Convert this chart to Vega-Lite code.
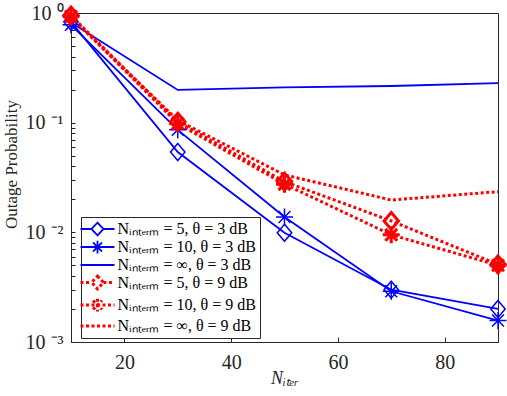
{
  "$schema": "https://vega.github.io/schema/vega-lite/v6.json",
  "width": 427,
  "height": 329,
  "autosize": {"type": "none"},
  "padding": {"left": 71, "top": 13, "right": 9, "bottom": 54},
  "background": "white",
  "config": {
    "font": "Liberation Serif",
    "view": {"stroke": "#262626", "strokeWidth": 1},
    "axis": {"domainColor": "#262626", "tickColor": "#262626", "labelColor": "#262626", "titleColor": "#262626", "labelFont": "Liberation Serif", "titleFont": "Liberation Serif", "grid": false}
  },
  "data": {"values": [
    {"series": "Nᵢₙₜₑᵣₘ = 5, θ = 3 dB", "x": 10, "y": 0.83},
    {"series": "Nᵢₙₜₑᵣₘ = 5, θ = 3 dB", "x": 30, "y": 0.054},
    {"series": "Nᵢₙₜₑᵣₘ = 5, θ = 3 dB", "x": 50, "y": 0.0099},
    {"series": "Nᵢₙₜₑᵣₘ = 5, θ = 3 dB", "x": 70, "y": 0.003},
    {"series": "Nᵢₙₜₑᵣₘ = 5, θ = 3 dB", "x": 90, "y": 0.002},
    {"series": "Nᵢₙₜₑᵣₘ = 10, θ = 3 dB", "x": 10, "y": 0.78},
    {"series": "Nᵢₙₜₑᵣₘ = 10, θ = 3 dB", "x": 30, "y": 0.086},
    {"series": "Nᵢₙₜₑᵣₘ = 10, θ = 3 dB", "x": 50, "y": 0.0138},
    {"series": "Nᵢₙₜₑᵣₘ = 10, θ = 3 dB", "x": 70, "y": 0.0029},
    {"series": "Nᵢₙₜₑᵣₘ = 10, θ = 3 dB", "x": 90, "y": 0.00157},
    {"series": "Nᵢₙₜₑᵣₘ = ∞, θ = 3 dB", "x": 10, "y": 0.82},
    {"series": "Nᵢₙₜₑᵣₘ = ∞, θ = 3 dB", "x": 30, "y": 0.199},
    {"series": "Nᵢₙₜₑᵣₘ = ∞, θ = 3 dB", "x": 50, "y": 0.21},
    {"series": "Nᵢₙₜₑᵣₘ = ∞, θ = 3 dB", "x": 70, "y": 0.216},
    {"series": "Nᵢₙₜₑᵣₘ = ∞, θ = 3 dB", "x": 90, "y": 0.229},
    {"series": "Nᵢₙₜₑᵣₘ = 5, θ = 9 dB", "x": 10, "y": 0.95},
    {"series": "Nᵢₙₜₑᵣₘ = 5, θ = 9 dB", "x": 30, "y": 0.102},
    {"series": "Nᵢₙₜₑᵣₘ = 5, θ = 9 dB", "x": 50, "y": 0.029},
    {"series": "Nᵢₙₜₑᵣₘ = 5, θ = 9 dB", "x": 70, "y": 0.0127},
    {"series": "Nᵢₙₜₑᵣₘ = 5, θ = 9 dB", "x": 90, "y": 0.0051},
    {"series": "Nᵢₙₜₑᵣₘ = 10, θ = 9 dB", "x": 10, "y": 0.93},
    {"series": "Nᵢₙₜₑᵣₘ = 10, θ = 9 dB", "x": 30, "y": 0.098},
    {"series": "Nᵢₙₜₑᵣₘ = 10, θ = 9 dB", "x": 50, "y": 0.0275},
    {"series": "Nᵢₙₜₑᵣₘ = 10, θ = 9 dB", "x": 70, "y": 0.0095},
    {"series": "Nᵢₙₜₑᵣₘ = 10, θ = 9 dB", "x": 90, "y": 0.005},
    {"series": "Nᵢₙₜₑᵣₘ = ∞, θ = 9 dB", "x": 10, "y": 0.91},
    {"series": "Nᵢₙₜₑᵣₘ = ∞, θ = 9 dB", "x": 30, "y": 0.105},
    {"series": "Nᵢₙₜₑᵣₘ = ∞, θ = 9 dB", "x": 50, "y": 0.0334},
    {"series": "Nᵢₙₜₑᵣₘ = ∞, θ = 9 dB", "x": 70, "y": 0.0197},
    {"series": "Nᵢₙₜₑᵣₘ = ∞, θ = 9 dB", "x": 90, "y": 0.0235}
  ]},
  "encoding": {
    "x": {"field": "x", "type": "quantitative", "scale": {"domain": [10, 90], "nice": false, "zero": false},
      "axis": {"values": [20, 40, 60, 80], "tickSize": -5, "labelPadding": 15, "labelFontSize": 20, "title": "Nᵢₜₑᵣ", "titleFontSize": 18, "titleFontStyle": "italic", "titleFontWeight": "normal", "titlePadding": -3}},
    "y": {"field": "y", "type": "quantitative", "scale": {"type": "log", "domain": [0.001, 1], "nice": false},
      "axis": {"values": [0.001,0.002,0.003,0.004,0.005,0.006,0.007,0.008,0.009,0.01,0.02,0.03,0.04,0.05,0.06,0.07,0.08,0.09,0.1,0.2,0.3,0.4,0.5,0.6,0.7,0.8,0.9,1],
        "tickSize": -4,
        "labelExpr": "abs(log(datum.value)/LN10 - round(log(datum.value)/LN10)) < 0.000001 ? '10 ' + (round(log(datum.value)/LN10) == 0 ? '⁰' : round(log(datum.value)/LN10) == -1 ? '⁻¹' : round(log(datum.value)/LN10) == -2 ? '⁻²' : '⁻³') : ''",
        "labelPadding": 12, "labelFontSize": 20, "title": "Outage Probability", "titleFontSize": 17, "titleFontWeight": "normal", "titlePadding": 5, "titleY": 151}}
  },
  "layer": [
    {
      "transform": [{"filter": "indexof(datum.series,'3 dB')>=0"}],
      "mark": {"type": "line", "clip": false, "strokeWidth": 1.8},
      "encoding": {
        "color": {"field": "series", "type": "nominal",
          "scale": {"domain": ["Nᵢₙₜₑᵣₘ = 5, θ = 3 dB", "Nᵢₙₜₑᵣₘ = 10, θ = 3 dB", "Nᵢₙₜₑᵣₘ = ∞, θ = 3 dB", "Nᵢₙₜₑᵣₘ = 5, θ = 9 dB", "Nᵢₙₜₑᵣₘ = 10, θ = 9 dB", "Nᵢₙₜₑᵣₘ = ∞, θ = 9 dB"],
            "range": ["#0000ff", "#0000ff", "#0000ff", "#ff0000", "#ff0000", "#ff0000"]},
          "legend": {"orient": "none", "legendX": 10, "legendY": 204, "title": null, "strokeColor": "#262626", "fillColor": "white", "padding": 4,
            "labelFont": "Liberation Serif", "labelFontSize": 16, "labelColor": "#000", "symbolSize": 289, "symbolOffset": 4.5, "labelOffset": 12, "rowPadding": -3.5,
            "encode": {"symbols": {"update": {
              "shape": {"signal": "indexof(''+datum.value,'= 5,')>=0 ? 'M-2,0L-0.7,0M0.7,0L2,0M0,-0.75L0.7,0L0,0.75L-0.7,0Z' : indexof(''+datum.value,'= 10,')>=0 ? 'M-2,0L2,0M0,-0.75L0,0.75M-0.53,-0.53L0.53,0.53M-0.53,0.53L0.53,-0.53' : 'M-2,0L2,0'"},
              "strokeWidth": {"signal": "indexof(''+datum.value,'9 dB')>=0 ? 3 : 1.8"},
              "strokeDash": {"signal": "indexof(''+datum.value,'9 dB')>=0 ? [3,2.5] : [1,0]"},
              "fill": {"value": "transparent"}
            }}}}}
      }
    },
    {
      "transform": [{"filter": "indexof(datum.series,'9 dB')>=0"}],
      "mark": {"type": "line", "clip": false, "strokeWidth": 3, "strokeDash": [3, 2.5]},
      "encoding": {
        "color": {"field": "series", "type": "nominal", "legend": null}
      }
    },
    {
      "transform": [{"filter": "indexof(datum.series,'3 dB')>=0 && indexof(datum.series,'∞')<0"}],
      "mark": {"type": "point", "filled": false, "clip": false, "opacity": 1, "strokeWidth": 1.5, "size": 289},
      "encoding": {
        "color": {"field": "series", "type": "nominal", "legend": null},
        "shape": {"field": "series", "type": "nominal", "legend": null,
          "scale": {"domain": ["Nᵢₙₜₑᵣₘ = 5, θ = 3 dB", "Nᵢₙₜₑᵣₘ = 10, θ = 3 dB", "Nᵢₙₜₑᵣₘ = 5, θ = 9 dB", "Nᵢₙₜₑᵣₘ = 10, θ = 9 dB"],
            "range": ["M0,-1L0.85,0L0,1L-0.85,0Z", "M-1,0L1,0M0,-1L0,1M-0.7,-0.7L0.7,0.7M-0.7,0.7L0.7,-0.7", "M0,-1L0.85,0L0,1L-0.85,0Z", "M-1,0L1,0M0,-1L0,1M-0.7,-0.7L0.7,0.7M-0.7,0.7L0.7,-0.7"]}}
      }
    },
    {
      "transform": [{"filter": "indexof(datum.series,'9 dB')>=0 && indexof(datum.series,'∞')<0"}],
      "mark": {"type": "point", "filled": false, "clip": false, "opacity": 1, "strokeWidth": 3, "size": 289},
      "encoding": {
        "color": {"field": "series", "type": "nominal", "legend": null},
        "shape": {"field": "series", "type": "nominal", "legend": null}
      }
    }
  ]
}
